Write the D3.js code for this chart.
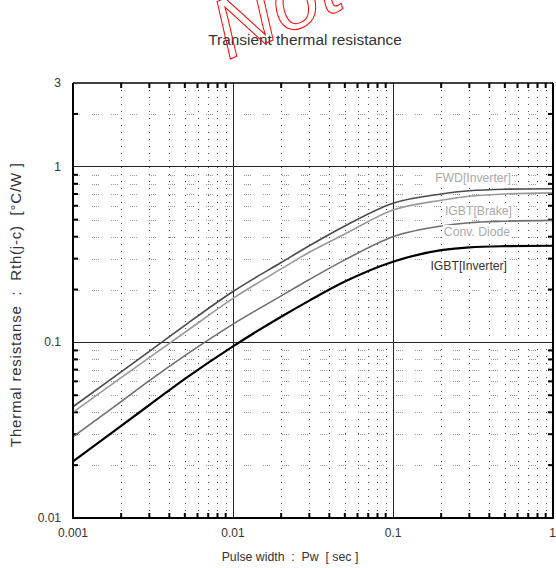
<!DOCTYPE html>
<html><head><meta charset="utf-8">
<script src="https://cdn.jsdelivr.net/npm/d3@7"></script>
<style>body{margin:0;background:#fff}svg{display:block}text{font-family:"Liberation Sans",Arial,sans-serif}</style>
</head><body><svg id="c" width="556" height="568"></svg>
<script>
const pulse = [0.001,0.002,0.003,0.005,0.01,0.02,0.03,0.05,0.1,0.2,0.3,0.5,1];
const fwdInv   = [0.043,0.068,0.089,0.125,0.195,0.285,0.355,0.46,0.62,0.70,0.73,0.745,0.75];
const igbtBrk  = [0.040,0.063,0.082,0.114,0.178,0.262,0.326,0.414,0.567,0.645,0.68,0.70,0.71];
const convDio  = [0.029,0.046,0.0605,0.084,0.127,0.184,0.228,0.295,0.40,0.46,0.48,0.49,0.495];
const igbtInv  = [0.021,0.0335,0.044,0.062,0.095,0.14,0.173,0.222,0.288,0.335,0.348,0.353,0.355];
const seriesNames = ["FWD[Inverter]","IGBT[Brake]","Conv. Diode","IGBT[Inverter]"];
const xTicks = [0.001,0.01,0.1,1];
const xTickLabels = ["0.001","0.01","0.1","1"];
const yTicks = [0.01,0.1,1,3];
const yTickLabels = ["0.01","0.1","1","3"];

const svg = d3.select("#c");
const x = d3.scaleLog().domain([0.001,1]).range([73,553]);
const y = d3.scaleLog().domain([0.01,3]).range([518,83]);

const xMinor = [];
[0.001,0.01,0.1].forEach(d=>{for(let k=2;k<=9;k++) xMinor.push(k*d);});
const yMinor = [];
[0.01,0.1].forEach(d=>{for(let k=2;k<=9;k++) yMinor.push(k*d);});
yMinor.push(2);

const g = svg.append("g");
// minor grid
g.selectAll(".vm").data(xMinor).join("line")
 .attr("x1",d=>Math.round(x(d))+0.5).attr("x2",d=>Math.round(x(d))+0.5).attr("y1",y(3)).attr("y2",y(0.01))
 .attr("stroke","#555").attr("stroke-width",1).attr("stroke-dasharray","1,6");
g.selectAll(".hm").data(yMinor).join("line")
 .attr("x1",x(0.001)).attr("x2",x(1)).attr("y1",d=>Math.round(y(d))+0.5).attr("y2",d=>Math.round(y(d))+0.5)
 .attr("stroke","#999").attr("stroke-width",1).attr("stroke-dasharray","1,1,1,1,1,1,1,12");
// major grid
g.selectAll(".vM").data([0.01,0.1]).join("line")
 .attr("x1",d=>x(d)).attr("x2",d=>x(d)).attr("y1",y(3)).attr("y2",y(0.01))
 .attr("stroke","#222").attr("stroke-width",1).attr("shape-rendering","crispEdges");
g.selectAll(".hM").data([0.1,1]).join("line")
 .attr("x1",x(0.001)).attr("x2",x(1)).attr("y1",d=>y(d)).attr("y2",d=>y(d))
 .attr("stroke","#222").attr("stroke-width",1).attr("shape-rendering","crispEdges");

// inward ticks on all four sides
const tl = 5;
g.selectAll(".tb").data(xMinor).join("line")
 .attr("x1",d=>x(d)).attr("x2",d=>x(d)).attr("y1",y(0.01)).attr("y2",y(0.01)-tl).attr("stroke","#000").attr("stroke-width",2);
g.selectAll(".tt").data(xMinor).join("line")
 .attr("x1",d=>x(d)).attr("x2",d=>x(d)).attr("y1",y(3)).attr("y2",y(3)+tl).attr("stroke","#000").attr("stroke-width",2);
g.selectAll(".tlft").data(yMinor).join("line")
 .attr("x1",x(0.001)).attr("x2",x(0.001)+tl).attr("y1",d=>y(d)).attr("y2",d=>y(d)).attr("stroke","#000").attr("stroke-width",2);
g.selectAll(".trgt").data(yMinor).join("line")
 .attr("x1",x(1)).attr("x2",x(1)-tl).attr("y1",d=>y(d)).attr("y2",d=>y(d)).attr("stroke","#000").attr("stroke-width",2);

// curves
const line = d3.line().x(d=>x(d[0])).y(d=>y(d[1])).curve(d3.curveMonotoneX);
const all = [fwdInv, igbtBrk, convDio, igbtInv];
const colors = ["#4a4a4a","#9a9a9a","#6f6f6f","#000"];
const widths = [1.6,1.6,1.6,2.2];
all.forEach((s,i)=>{
  g.append("path").datum(pulse.map((p,j)=>[p,s[j]])).attr("d",line)
   .attr("fill","none").attr("stroke",colors[i]).attr("stroke-width",widths[i]);
});

// series labels
const labelPos = [[511,182],[512,215],[510,236],[507,270]];
const labelCol = ["#aaa","#aaa","#aaa","#333"];
seriesNames.forEach((n,i)=>{
  const t = g.append("text").attr("x",labelPos[i][0]).attr("y",labelPos[i][1])
   .attr("text-anchor","end").attr("font-size",12.2).attr("fill",labelCol[i]).text(n);
  const bb = t.node().getBBox();
  g.insert("rect","text:last-child").attr("x",bb.x-1).attr("y",bb.y).attr("width",bb.width+2).attr("height",bb.height).attr("fill","#fff");
});

// frame
g.append("line").attr("x1",x(0.001)).attr("x2",x(1)).attr("y1",y(3)).attr("y2",y(3)).attr("stroke","#000").attr("stroke-width",1.5);
g.append("line").attr("x1",x(0.001)-1).attr("x2",x(1)+1).attr("y1",y(0.01)).attr("y2",y(0.01)).attr("stroke","#000").attr("stroke-width",2);
g.append("line").attr("x1",x(0.001)).attr("x2",x(0.001)).attr("y1",y(3)).attr("y2",y(0.01)+1).attr("stroke","#000").attr("stroke-width",2);
g.append("line").attr("x1",x(1)).attr("x2",x(1)).attr("y1",y(3)).attr("y2",y(0.01)+1).attr("stroke","#000").attr("stroke-width",2);

// tick labels
xTicks.forEach((v,i)=>{
  svg.append("text").attr("x",x(v)).attr("y",537).attr("text-anchor",i===3?"end":"middle")
   .attr("dx",i===3?3:0).attr("font-size",12).attr("fill","#333").text(xTickLabels[i]);
});
yTicks.forEach((v,i)=>{
  svg.append("text").attr("x",61).attr("y",y(v)+4).attr("text-anchor","end")
   .attr("font-size",12).attr("fill","#333").text(yTickLabels[i]);
});

// axis titles
svg.append("text").attr("x",290).attr("y",561).attr("text-anchor","middle").attr("font-size",12.3).attr("fill","#333")
 .attr("xml:space","preserve").text("Pulse width  :  Pw  [ sec ]");
svg.append("text").attr("transform","translate(21,305) rotate(-90)").attr("text-anchor","middle").attr("font-size",15).attr("fill","#333")
 .attr("textLength",284).attr("lengthAdjust","spacing")
 .attr("xml:space","preserve").text("Thermal resistanse  :  Rth(j-c)  [°C/W ]");
svg.append("text").attr("x",305).attr("y",45).attr("text-anchor","middle").attr("font-size",15.4).attr("fill","#333").text("Transient thermal resistance");

// watermark
svg.append("text").attr("transform","translate(228,60) rotate(-24)")
 .attr("font-family","'Liberation Serif','DejaVu Serif',serif").attr("font-style","italic").attr("font-size",84)
 .attr("fill","none").attr("stroke","#f00").attr("stroke-width",1).text("Not Recommended");
</script></body></html>
